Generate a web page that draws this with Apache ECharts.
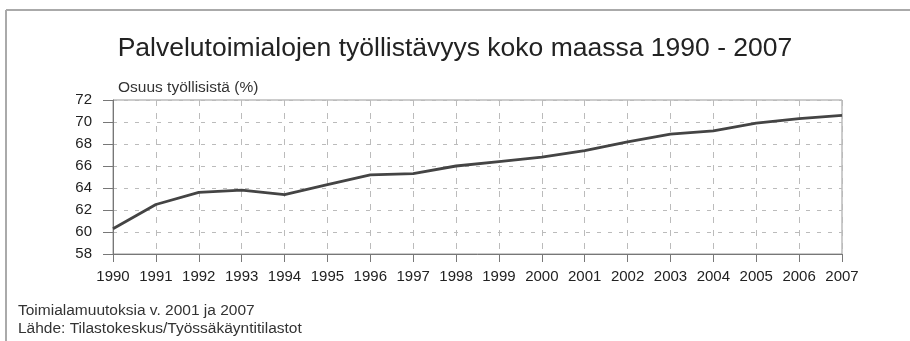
<!DOCTYPE html>
<html><head><meta charset="utf-8">
<script src="https://cdn.jsdelivr.net/npm/echarts@6/dist/echarts.min.js"></script>
<style>html,body{margin:0;padding:0;background:#fff}#c{width:910px;height:341px}</style>
</head><body><div id="c"></div>
<script>
const years = ['1990','1991','1992','1993','1994','1995','1996','1997','1998','1999','2000','2001','2002','2003','2004','2005','2006','2007'];
const share = [60.3,62.5,63.6,63.8,63.4,64.3,65.2,65.3,66.0,66.4,66.8,67.4,68.2,68.9,69.2,69.9,70.3,70.6];
const titleText = 'Palvelutoimialojen työllistävyys koko maassa 1990 - 2007';
const yName = 'Osuus työllisistä (%)';
const notes = ['Toimialamuutoksia v. 2001 ja 2007', 'Lähde: Tilastokeskus/Työssäkäyntitilastot'];

const FONT = '"Liberation Sans", Arial, sans-serif';
const chart = echarts.init(document.getElementById('c'), null, {renderer:'canvas'});
chart.setOption({
  backgroundColor:'#fff',
  animation:false,
  title:[
    {text:titleText, left:'center', top:30, textStyle:{fontFamily:FONT, fontSize:26.5, fontWeight:'normal', color:'#222'}},
    {text:yName, left:118, top:80, padding:0, textStyle:{fontFamily:FONT, fontSize:15.5, fontWeight:'normal', color:'#333'}},
    {text:notes[0], left:18, top:303, padding:0, textStyle:{fontFamily:FONT, fontSize:15.5, fontWeight:'normal', color:'#333'}},
    {text:notes[1], left:18, top:321, padding:0, textStyle:{fontFamily:FONT, fontSize:15.5, fontWeight:'normal', color:'#333'}}
  ],
  graphic:[
    {type:'line', shape:{x1:6, y1:10, x2:910, y2:10}, style:{stroke:'#aaa', lineWidth:2}},
    {type:'line', shape:{x1:6, y1:10, x2:6, y2:341}, style:{stroke:'#aaa', lineWidth:2}}
  ],
  grid:{left:113, right:68, top:100, bottom:87, show:true, borderColor:'#999', borderWidth:1},
  xAxis:{
    type:'category', data:years, boundaryGap:false,
    axisLine:{lineStyle:{color:'#777', width:1}},
    axisTick:{show:true, length:8, interval:0, lineStyle:{color:'#777'}},
    axisLabel:{fontFamily:FONT, fontSize:15, color:'#222', margin:15, interval:0},
    splitLine:{show:true, interval:0, lineStyle:{color:'#bbb', type:[6,7], width:1}}
  },
  yAxis:{
    type:'value', min:58, max:72, interval:2,
    axisLine:{show:true, lineStyle:{color:'#777', width:1}},
    axisTick:{show:true, length:10, lineStyle:{color:'#777'}},
    axisLabel:{fontFamily:FONT, fontSize:15, color:'#222', margin:21},
    splitLine:{show:true, lineStyle:{color:'#bbb', type:[4,7], width:1}}
  },
  series:[{
    type:'line', data:share, symbol:'none',
    lineStyle:{color:'#444', width:2.8},
    z:5
  }]
});
</script></body></html>
